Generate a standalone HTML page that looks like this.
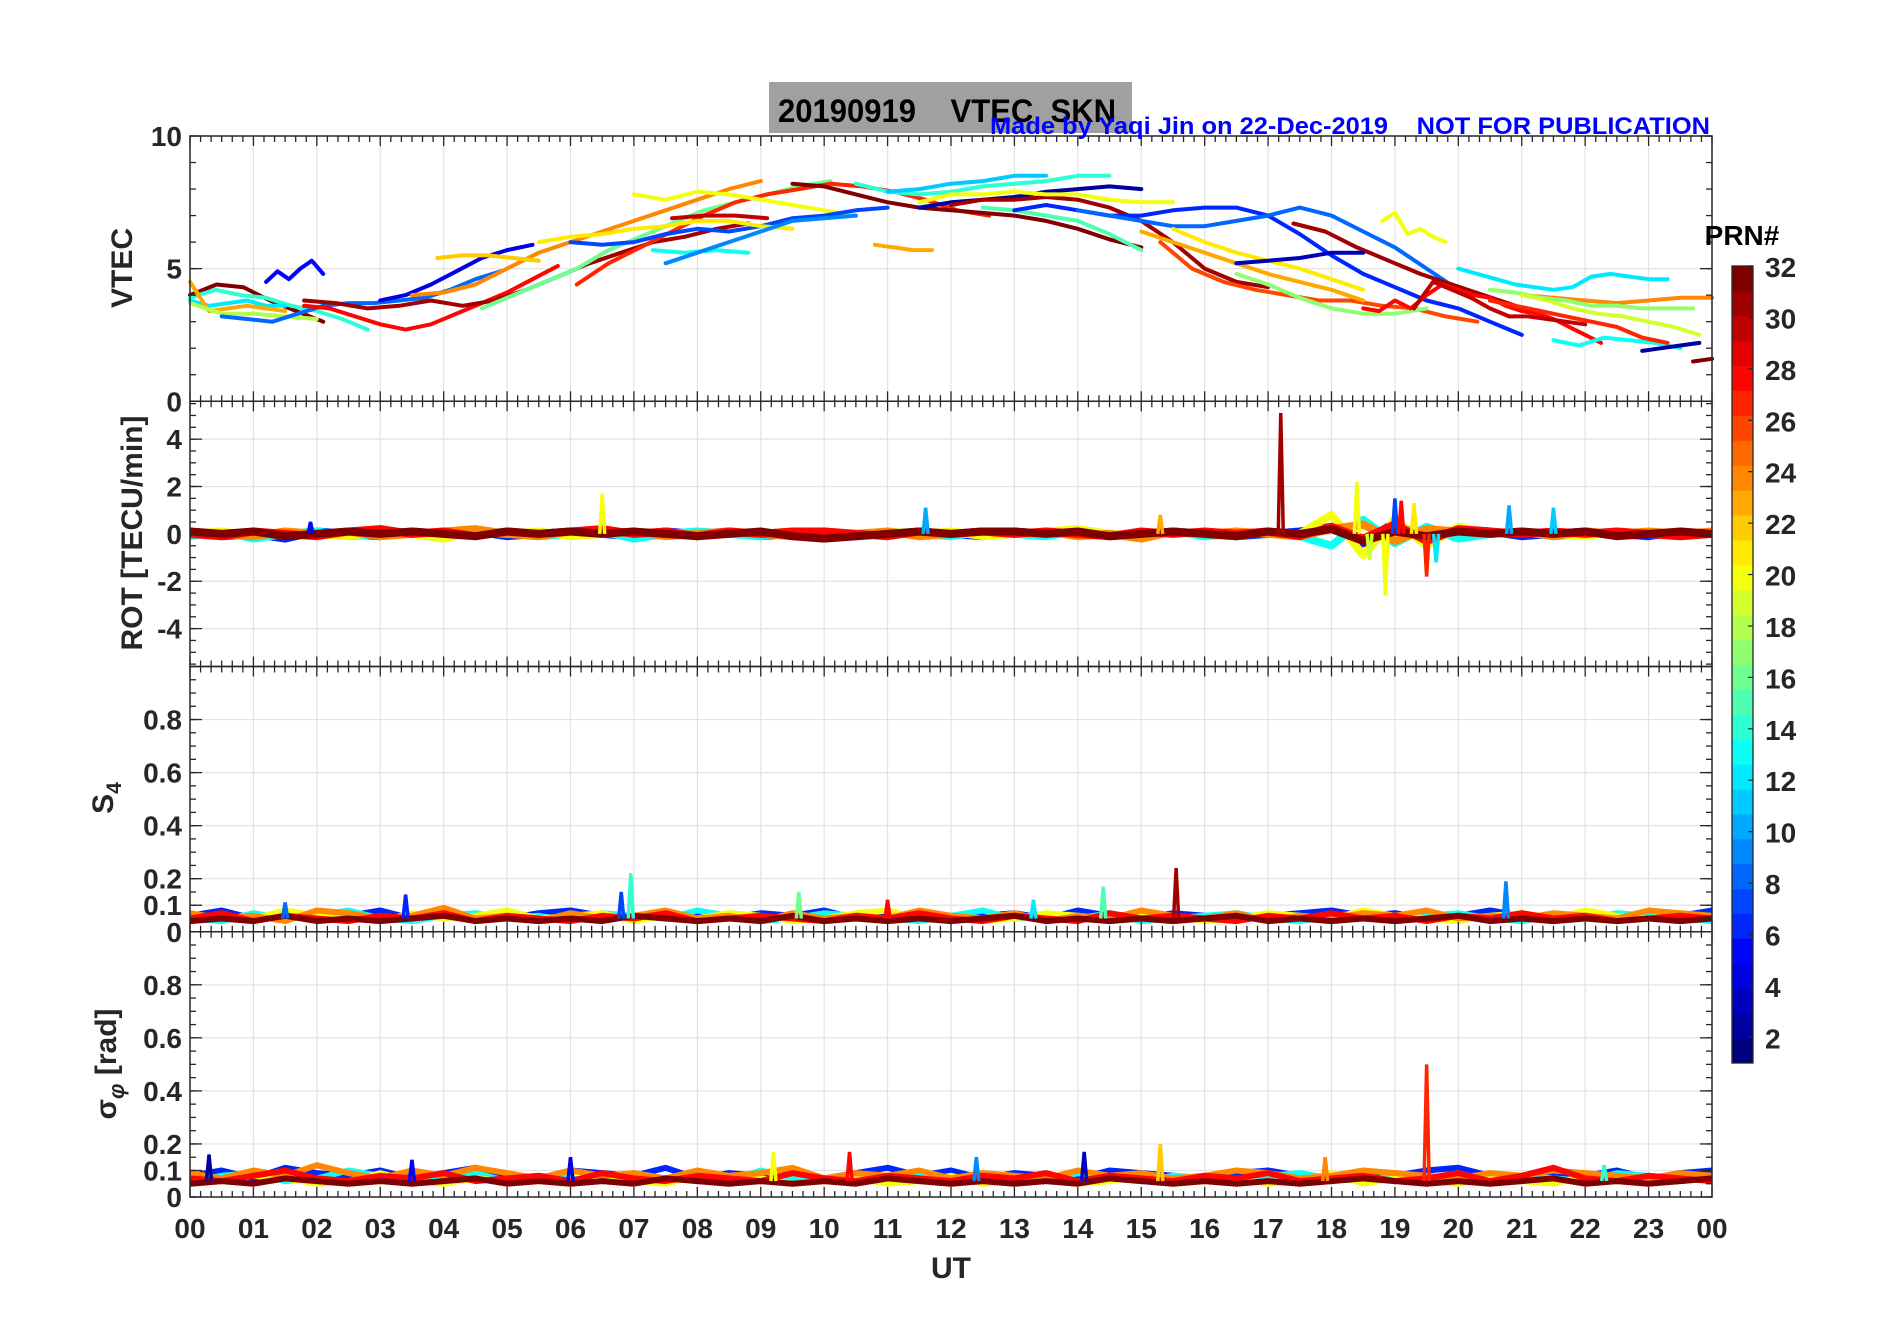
<!DOCTYPE html>
<html><head><meta charset="utf-8">
<style>
html,body{margin:0;padding:0;background:#fff;}
svg{display:block;font-family:"Liberation Sans",sans-serif;}
.tl{font-weight:bold;font-size:28px;fill:#262626;}
.al{font-weight:bold;font-size:30px;fill:#262626;}
</style></head>
<body>
<svg id="fig" width="1902" height="1330" viewBox="0 0 1902 1330" xmlns="http://www.w3.org/2000/svg">
<rect x="0" y="0" width="1902" height="1330" fill="#fff"/>
<g id="grid"></g>
<g id="data"></g>
<g id="axes"></g>
<rect x="769" y="82" width="363" height="51" fill="#a0a0a0"/>
<text x="778" y="122" font-size="32" font-weight="bold" fill="#000" transform="translate(778 0) scale(0.97 1) translate(-778 0)" xml:space="preserve">20190919    VTEC  SKN</text>
<text x="990" y="134" font-size="24" font-weight="bold" fill="#0000ff" transform="translate(990 0) scale(1.06 1) translate(-990 0)">Made by Yaqi Jin on 22-Dec-2019</text>
<text x="1710" y="134" font-size="24" font-weight="bold" fill="#0000ff" text-anchor="end" transform="translate(1710 0) scale(1.06 1) translate(-1710 0)">NOT FOR PUBLICATION</text>
<text class="al" transform="translate(132 268) rotate(-90)" text-anchor="middle">VTEC</text>
<text class="al" transform="translate(142 533) rotate(-90)" text-anchor="middle">ROT [TECU/min]</text>
<text class="al" transform="translate(113 798) rotate(-90)" text-anchor="middle">S<tspan font-size="21" dy="8">4</tspan></text>
<text class="al" transform="translate(116 1064) rotate(-90)" text-anchor="middle">σ<tspan font-size="22" dy="8" font-style="italic">φ</tspan><tspan dy="-8"> [rad]</tspan></text>
<text class="al" x="951" y="1278" text-anchor="middle" font-size="30">UT</text>
<g id="cbar"></g>
<text x="1742" y="245" text-anchor="middle" font-size="28" font-weight="bold" fill="#000">PRN#</text>
</svg>
<script>
// ---- data ----
const hourLabels = ["00","01","02","03","04","05","06","07","08","09","10","11","12","13","14","15","16","17","18","19","20","21","22","23","00"];
const vtecTicks = [0,5,10];
const rotTicks = [-4,-2,0,2,4];
const scintTicks = [0,0.1,0.2,0.4,0.6,0.8];
const cbarTicks = [2,4,6,8,10,12,14,16,18,20,22,24,26,28,30,32];
// VTEC tracks: prn, start hour, step hour, values
const vtecPrn   = [32,5,14,12,23,18,8,28,31,4,24,22,16,27,20,7,21,13,9,30,32,14,11,23,2,31,20,15,6,8,26,23,21,17,31,3,20,28,30,12,13,24,17,19,2,32,27];
const vtecStart = [0,1.2,0,0,0,0,0.5,1.8,1.8,3,3.5,3.9,4.6,6.1,7,6,5.5,7.3,7.5,7.6,9.5,10.5,11,10.8,11.5,12,11.5,12.5,13,14,15.3,15,15.5,16.5,17.4,16.5,18.8,18.5,19.3,20,21.5,21,20.5,21,22.9,23.7,20.5];
const vtecStep  = [0.42,0.18,0.4,0.3,0.3,0.5,0.4,0.4,0.5,0.4,0.5,0.4,0.5,0.5,0.5,0.5,0.5,0.5,0.5,0.5,0.5,0.5,0.5,0.3,0.5,0.5,0.5,0.5,0.5,0.5,0.5,0.5,0.5,0.5,0.5,0.5,0.2,0.25,0.3,0.3,0.4,0.5,0.4,0.4,0.3,0.3,0.4];
const vtecVals = [
 [4.0,4.4,4.3,3.8,3.4,3.0],
 [4.5,4.9,4.6,5.0,5.3,4.8],
 [3.9,4.2,4.0,3.9,3.6,3.4,3.1,2.7],
 [3.8,3.6,3.7,3.8,3.6,3.6],
 [4.5,3.4,3.5,3.6,3.5,3.4],
 [3.7,3.3,3.3,3.2,3.1],
 [3.2,3.1,3.0,3.3,3.6,3.7,3.7,3.8,3.9,4.2,4.6,4.9],
 [3.6,3.5,3.2,2.9,2.7,2.9,3.3,3.7,4.1,4.6,5.1],
 [3.8,3.7,3.5,3.6,3.8,3.6,3.8,4.2,4.7,5.2,5.6,6.0,6.2,6.5,6.7],
 [3.8,4.0,4.4,4.9,5.4,5.7,5.9],
 [4.0,4.1,4.4,5.0,5.6,6.0,6.4,6.8,7.2,7.6,8.0,8.3],
 [5.4,5.5,5.5,5.4,5.3],
 [3.5,4.0,4.5,5.0,5.7,6.2,6.7,7.2,7.5,7.8,8.1,8.3],
 [4.4,5.2,5.8,6.4,7.0,7.5,7.8,8.0,8.2,8.1,7.9,7.6,7.2,7.0],
 [7.8,7.6,7.9,7.8,7.6,7.4,7.2,7.0],
 [6.0,5.9,6.0,6.3,6.5,6.4,6.6,6.9,7.0,7.2,7.3],
 [6.0,6.2,6.3,6.5,6.6,6.8,6.8,6.6,6.5],
 [5.7,5.6,5.7,5.6],
 [5.2,5.6,6.0,6.4,6.8,6.9,7.0],
 [6.9,7.0,7.0,6.9],
 [8.2,8.1,7.8,7.5,7.3,7.2,7.1,7.0,6.8,6.5,6.1,5.8],
 [8.2,7.9,7.8,7.9,8.1,8.2,8.3,8.5,8.5],
 [7.9,8.0,8.2,8.3,8.5,8.5],
 [5.9,5.8,5.7,5.7],
 [7.3,7.5,7.6,7.7,7.9,8.0,8.1,8.0],
 [7.4,7.6,7.6,7.7,7.6,7.3,6.8,6.0,5.0,4.5,4.3],
 [7.5,7.8,7.8,7.9,7.8,7.8,7.6,7.5,7.5],
 [7.3,7.2,7.0,6.8,6.3,5.7],
 [7.2,7.4,7.2,7.0,7.0,7.2,7.3,7.3,7.0,6.3,5.5,4.8,4.3,3.8,3.5,3.0,2.5],
 [7.2,7.0,6.8,6.6,6.6,6.8,7.0,7.3,7.0,6.4,5.8,5.0,4.2],
 [6.0,5.0,4.5,4.2,4.0,3.8,3.8,3.6,3.5,3.2,3.0],
 [6.4,6.0,5.6,5.2,4.8,4.5,4.2,3.8],
 [6.5,6.0,5.6,5.3,5.0,4.6,4.2],
 [4.8,4.4,3.9,3.5,3.3,3.3,3.5],
 [6.7,6.4,5.8,5.3,4.8,4.4,4.0,3.6],
 [5.2,5.3,5.4,5.6,5.6],
 [6.8,7.1,6.3,6.5,6.2,6.0],
 [3.5,3.4,3.8,3.5,4.0,4.4,4.2,4.0,3.9,3.6,3.4,3.3,3.1,2.8,2.5,2.2],
 [3.5,4.5,4.2,3.9,3.5,3.2,3.2,3.1,3.0,2.9],
 [5.0,4.8,4.6,4.4,4.3,4.2,4.3,4.7,4.8,4.7,4.6,4.6],
 [2.3,2.1,2.4,2.3,2.2,2.0],
 [4.0,3.9,3.8,3.7,3.8,3.9,3.9],
 [4.2,4.1,3.9,3.8,3.6,3.6,3.5,3.5,3.5],
 [4.0,3.8,3.5,3.3,3.2,3.0,2.8,2.5],
 [1.9,2.0,2.1,2.2],
 [1.5,1.6],
 [3.8,3.6,3.4,3.2,3.0,2.8,2.4,2.2]
];
// noise band levels (half-hour samples, 0..24h)
const bandPrn = [6,13,20,24,28,32];
const rotBand = [
 [0.1,-0.1,0.0,-0.2,0.1,0.0,-0.1,0.1,0.0,0.1,-0.1,0.0,0.1,0.0,-0.1,0.1,0.0,0.1,-0.1,0.0,0.1,-0.1,0.0,0.1,0.0,-0.1,0.1,0.0,0.1,-0.1,0.0,0.1,0.0,-0.1,0.0,0.1,0.3,-0.4,0.5,-0.3,0.2,0.1,-0.1,0.0,0.1,0.0,-0.1,0.1,0.0],
 [-0.1,0.1,-0.2,0.0,0.1,-0.1,0.0,0.1,-0.1,0.0,0.1,-0.1,0.0,0.1,-0.2,0.0,0.1,0.0,-0.1,0.1,0.0,-0.1,0.1,0.0,-0.1,0.1,0.0,-0.1,0.1,0.0,-0.1,0.1,-0.1,0.0,0.1,-0.1,-0.5,0.6,-0.4,0.3,-0.2,0.0,0.1,-0.1,0.0,0.1,0.0,-0.1,0.1],
 [0.0,0.1,-0.1,0.1,0.0,-0.1,0.1,0.0,-0.2,0.1,0.0,0.1,-0.1,0.0,0.1,0.0,-0.1,0.1,0.0,0.1,-0.1,0.0,0.1,0.0,0.1,-0.1,0.0,0.1,0.2,0.0,-0.1,0.1,0.0,-0.1,0.1,0.0,0.8,-0.9,0.6,-0.5,0.3,0.0,0.1,0.0,-0.1,0.1,0.0,0.1,0.0],
 [0.1,0.0,-0.1,0.1,0.0,0.1,-0.1,0.0,0.1,0.2,0.0,-0.1,0.1,0.0,0.1,-0.1,0.0,0.1,0.0,-0.1,0.1,0.0,0.1,-0.1,0.0,0.1,0.0,0.1,-0.1,0.0,-0.2,0.1,0.0,0.1,0.0,-0.1,0.2,0.4,-0.3,0.2,0.1,0.0,0.1,-0.1,0.1,0.0,0.1,0.0,0.1],
 [0.0,-0.1,0.1,0.0,-0.1,0.1,0.2,0.0,0.1,-0.1,0.1,0.0,0.1,0.2,0.0,0.1,-0.1,0.1,0.0,0.1,0.1,0.0,-0.1,0.1,0.0,0.1,0.0,0.1,0.0,-0.1,0.1,0.0,0.1,0.0,0.1,-0.1,0.3,-0.2,0.4,-0.3,0.2,0.1,0.0,0.1,0.0,0.1,0.0,-0.1,0.0],
 [0.1,0.0,0.1,-0.1,0.0,0.1,0.0,0.1,0.0,-0.1,0.1,0.0,0.1,0.0,0.1,0.0,-0.1,0.0,0.1,-0.1,-0.2,-0.1,0.0,0.1,0.0,0.1,0.1,0.0,0.1,-0.1,0.0,0.1,0.0,-0.1,0.1,0.0,0.2,-0.3,0.1,-0.1,0.1,0.0,0.1,0.0,0.1,-0.1,0.0,0.1,0.0]
];
const s4Band = [
 [0.06,0.08,0.05,0.07,0.05,0.06,0.08,0.05,0.07,0.06,0.05,0.07,0.08,0.06,0.05,0.07,0.06,0.05,0.07,0.06,0.08,0.05,0.06,0.07,0.05,0.06,0.07,0.05,0.08,0.06,0.05,0.07,0.06,0.05,0.06,0.07,0.08,0.06,0.07,0.05,0.06,0.08,0.06,0.05,0.07,0.06,0.05,0.06,0.08],
 [0.05,0.04,0.07,0.05,0.06,0.08,0.05,0.04,0.06,0.07,0.05,0.06,0.04,0.07,0.06,0.05,0.08,0.06,0.04,0.05,0.07,0.06,0.05,0.04,0.06,0.08,0.05,0.06,0.05,0.07,0.04,0.05,0.06,0.07,0.05,0.04,0.06,0.07,0.05,0.06,0.07,0.05,0.04,0.06,0.05,0.07,0.06,0.05,0.04],
 [0.04,0.06,0.05,0.08,0.06,0.05,0.04,0.07,0.05,0.06,0.08,0.05,0.06,0.07,0.04,0.06,0.05,0.07,0.06,0.04,0.05,0.07,0.08,0.05,0.06,0.04,0.05,0.07,0.06,0.05,0.07,0.06,0.04,0.05,0.07,0.06,0.05,0.08,0.06,0.05,0.04,0.06,0.07,0.05,0.08,0.06,0.05,0.07,0.05],
 [0.07,0.05,0.06,0.04,0.08,0.07,0.05,0.06,0.09,0.05,0.06,0.04,0.07,0.05,0.06,0.08,0.05,0.06,0.04,0.07,0.05,0.06,0.05,0.08,0.06,0.05,0.07,0.04,0.06,0.05,0.08,0.06,0.05,0.07,0.04,0.06,0.05,0.07,0.06,0.08,0.05,0.06,0.05,0.07,0.06,0.05,0.08,0.07,0.06],
 [0.05,0.07,0.04,0.06,0.05,0.04,0.06,0.05,0.07,0.04,0.06,0.05,0.04,0.06,0.05,0.07,0.04,0.05,0.06,0.05,0.04,0.06,0.05,0.07,0.05,0.04,0.06,0.05,0.04,0.07,0.05,0.06,0.05,0.04,0.06,0.05,0.07,0.05,0.06,0.04,0.06,0.05,0.07,0.05,0.06,0.04,0.05,0.06,0.05],
 [0.04,0.05,0.04,0.06,0.04,0.05,0.04,0.05,0.06,0.04,0.05,0.04,0.05,0.04,0.06,0.05,0.04,0.05,0.04,0.06,0.04,0.05,0.04,0.05,0.04,0.05,0.06,0.04,0.05,0.04,0.05,0.04,0.05,0.06,0.04,0.05,0.04,0.05,0.04,0.05,0.06,0.04,0.05,0.04,0.05,0.04,0.05,0.04,0.05]
];
const sigBand = [
 [0.08,0.10,0.07,0.11,0.09,0.08,0.10,0.07,0.09,0.11,0.08,0.07,0.10,0.09,0.08,0.11,0.07,0.09,0.08,0.10,0.07,0.09,0.11,0.08,0.10,0.07,0.09,0.08,0.07,0.10,0.09,0.08,0.07,0.09,0.10,0.08,0.07,0.09,0.08,0.10,0.11,0.08,0.07,0.09,0.08,0.10,0.07,0.09,0.10],
 [0.06,0.08,0.09,0.06,0.07,0.10,0.08,0.06,0.07,0.09,0.06,0.08,0.07,0.06,0.09,0.07,0.08,0.06,0.10,0.07,0.06,0.08,0.07,0.09,0.06,0.08,0.07,0.06,0.09,0.07,0.06,0.08,0.07,0.06,0.08,0.09,0.07,0.06,0.08,0.07,0.09,0.06,0.08,0.07,0.06,0.09,0.08,0.06,0.07],
 [0.05,0.06,0.08,0.07,0.05,0.06,0.09,0.06,0.05,0.07,0.06,0.08,0.05,0.07,0.06,0.05,0.08,0.06,0.07,0.05,0.06,0.07,0.05,0.06,0.08,0.05,0.06,0.07,0.05,0.06,0.08,0.05,0.06,0.07,0.05,0.06,0.09,0.05,0.07,0.06,0.05,0.07,0.06,0.05,0.08,0.06,0.05,0.07,0.06],
 [0.09,0.07,0.10,0.08,0.12,0.09,0.07,0.10,0.08,0.11,0.09,0.07,0.10,0.08,0.09,0.07,0.10,0.08,0.09,0.11,0.07,0.09,0.08,0.10,0.07,0.09,0.08,0.07,0.10,0.08,0.09,0.07,0.08,0.10,0.09,0.07,0.08,0.10,0.09,0.08,0.07,0.09,0.08,0.10,0.09,0.08,0.07,0.09,0.08],
 [0.07,0.06,0.08,0.10,0.07,0.06,0.08,0.07,0.09,0.06,0.07,0.08,0.06,0.09,0.07,0.06,0.08,0.07,0.06,0.09,0.07,0.06,0.08,0.07,0.06,0.08,0.07,0.09,0.06,0.08,0.07,0.06,0.08,0.07,0.09,0.06,0.07,0.08,0.06,0.07,0.09,0.06,0.08,0.11,0.07,0.06,0.08,0.07,0.06],
 [0.05,0.06,0.05,0.07,0.06,0.05,0.06,0.05,0.06,0.07,0.05,0.06,0.05,0.06,0.05,0.07,0.06,0.05,0.06,0.05,0.06,0.05,0.07,0.06,0.05,0.06,0.05,0.06,0.05,0.07,0.06,0.05,0.06,0.05,0.06,0.05,0.06,0.07,0.06,0.05,0.06,0.05,0.06,0.07,0.05,0.06,0.05,0.06,0.07]
];
// spikes: hour, peak value, prn
const rotSpikeHour = [6.5,11.6,17.2,15.3,18.4,18.85,18.6,19.0,19.1,19.5,19.3,20.8,21.5,19.65,1.9];
const rotSpikeVal  = [1.7,1.1,5.1,0.8,2.2,-2.6,-1.1,1.5,1.4,-1.8,1.3,1.2,1.1,-1.2,0.5];
const rotSpikePrn  = [20,10,31,23,20,20,19,7,28,27,21,10,11,12,5];
const s4SpikeHour = [6.95,15.55,20.75,3.4,9.6,13.3,14.4,6.8,11.0,1.5];
const s4SpikeVal  = [0.22,0.24,0.19,0.14,0.15,0.12,0.17,0.15,0.12,0.11];
const s4SpikePrn  = [14,31,9,6,16,12,15,7,28,8];
const sigSpikeHour = [19.5,15.3,14.1,9.2,10.4,0.3,6.0,12.4,3.5,17.9,22.3];
const sigSpikeVal  = [0.50,0.20,0.17,0.17,0.17,0.16,0.15,0.15,0.14,0.15,0.12];
const sigSpikePrn  = [27,22,3,20,28,2,4,9,5,24,14];

// ---- layout ----
const L=190, R=1712, T=136, PH=265.25;
const NS="http://www.w3.org/2000/svg";
const panels=[{min:0,max:10},{min:-5.6,max:5.6},{min:0,max:1},{min:0,max:1}];
function xs(h){return L+h*(R-L)/24;}
function ys(p,v){const P=panels[p];const top=T+p*PH;return top+PH*(P.max-v)/(P.max-P.min);}
function jet(p){const t=(p-1)/31;const c=x=>Math.round(255*Math.max(0,Math.min(1,x)));
 return `rgb(${c(1.5-Math.abs(4*t-3))},${c(1.5-Math.abs(4*t-2))},${c(1.5-Math.abs(4*t-1))})`;}
function mk(tag,attrs,parent){const e=document.createElementNS(NS,tag);for(const k in attrs)e.setAttribute(k,attrs[k]);parent.appendChild(e);return e;}
const gGrid=document.getElementById('grid'),gData=document.getElementById('data'),gAx=document.getElementById('axes'),gCb=document.getElementById('cbar');

// grid
for(let p=0;p<4;p++){
 const top=T+p*PH;
 for(let h=1;h<24;h++){const l=mk('line',{x1:xs(h),x2:xs(h),y1:top,y2:top+PH,stroke:'#e3e3e3','stroke-width':1.2},gGrid);
  }
 const tks=p==0?vtecTicks:p==1?rotTicks:scintTicks;
 tks.forEach(v=>{const y=ys(p,v);if(Math.abs(y-top)<1||Math.abs(y-top-PH)<1)return;
  const l=mk('line',{x1:L,x2:R,y1:y,y2:y,stroke:'#e3e3e3','stroke-width':1.2},gGrid);
  });
}
// VTEC tracks
vtecVals.forEach((vals,i)=>{
 const pts=vals.map((v,j)=>xs(vtecStart[i]+j*vtecStep[i]).toFixed(1)+','+ys(0,v).toFixed(1)).join(' ');
 const pl=mk('polyline',{points:pts,fill:'none',stroke:jet(vtecPrn[i]),'stroke-width':4,'stroke-linejoin':'round','stroke-linecap':'round'},gData);
 
 
});
function bands(p,arr,w,nm){
 arr.forEach((vals,i)=>{
  const pts=vals.map((v,j)=>xs(j*0.5).toFixed(1)+','+ys(p,v).toFixed(1)).join(' ');
  const pl=mk('polyline',{points:pts,fill:'none',stroke:jet(bandPrn[i]),'stroke-width':w,'stroke-linejoin':'round'},gData);
  
  
 });
}
function spikes(p,hs,vs,ps,base,nm){
 hs.forEach((h,i)=>{
  const pl=mk('polyline',{points:`${xs(h-0.04)},${ys(p,base)} ${xs(h)},${ys(p,vs[i])} ${xs(h+0.04)},${ys(p,base)}`,fill:'none',stroke:jet(ps[i]),'stroke-width':3.5},gData);
  
  
 });
}
bands(1,rotBand,8,'rot');spikes(1,rotSpikeHour,rotSpikeVal,rotSpikePrn,0,'rot');
bands(2,s4Band,6,'s4');spikes(2,s4SpikeHour,s4SpikeVal,s4SpikePrn,0.05,'s4');
bands(3,sigBand,6,'sigma');spikes(3,sigSpikeHour,sigSpikeVal,sigSpikePrn,0.06,'sigma');

// axes
for(let p=0;p<4;p++){
 const top=T+p*PH,bot=top+PH;
 const b=mk('rect',{x:L,y:top,width:R-L,height:PH,fill:'none',stroke:'#262626','stroke-width':1.5},gAx);
 
 for(let m=0;m<=144;m++){const x=xs(m/6);const len=m%6==0?10:6;
  mk('line',{x1:x,x2:x,y1:bot,y2:bot-len,stroke:'#262626','stroke-width':1.3},gAx);
  mk('line',{x1:x,x2:x,y1:top,y2:top+len,stroke:'#262626','stroke-width':1.3},gAx);}
 const P=panels[p];const minorStep=p==0?1:p==1?0.5:0.05;
 for(let v=Math.ceil(P.min/minorStep)*minorStep;v<=P.max+1e-9;v+=minorStep){const y=ys(p,v);
  mk('line',{x1:L,x2:L+6,y1:y,y2:y,stroke:'#262626','stroke-width':1.3},gAx);
  mk('line',{x1:R,x2:R-6,y1:y,y2:y,stroke:'#262626','stroke-width':1.3},gAx);}
 const tks=p==0?vtecTicks:p==1?rotTicks:scintTicks;
 tks.forEach(v=>{const y=ys(p,v);
  mk('line',{x1:L,x2:L+12,y1:y,y2:y,stroke:'#262626','stroke-width':1.3},gAx);
  mk('line',{x1:R,x2:R-12,y1:y,y2:y,stroke:'#262626','stroke-width':1.3},gAx);
  const t=mk('text',{x:L-8,y:y+10,'text-anchor':'end',class:'tl'},gAx);t.textContent=String(v);
  });
}
hourLabels.forEach((s,i)=>{const t=mk('text',{x:xs(i),y:1238,'text-anchor':'middle',class:'tl'},gAx);t.textContent=s;
 });

// colorbar
const CX=1732,CW=21,CT=266,CB=1063;
for(let k=1;k<=32;k++){const y0=CT+(CB-CT)*(32-k)/32;
 const r=mk('rect',{x:CX,y:y0,width:CW,height:(CB-CT)/32+0.5,fill:jet(k)},gCb);
 }
mk('rect',{x:CX,y:CT,width:CW,height:CB-CT,fill:'none',stroke:'#262626','stroke-width':1.3},gCb);
function cy(v){return CB-(CB-CT)*(v-1)/31;}
cbarTicks.forEach(v=>{const y=cy(v);
 mk('line',{x1:CX+CW-5,x2:CX+CW,y1:y,y2:y,stroke:'#262626','stroke-width':1.2},gCb);
 const t=mk('text',{x:1765,y:y+11,class:'tl','font-size':'30'},gCb);t.textContent=String(v);
 });
</script>
</body></html>
